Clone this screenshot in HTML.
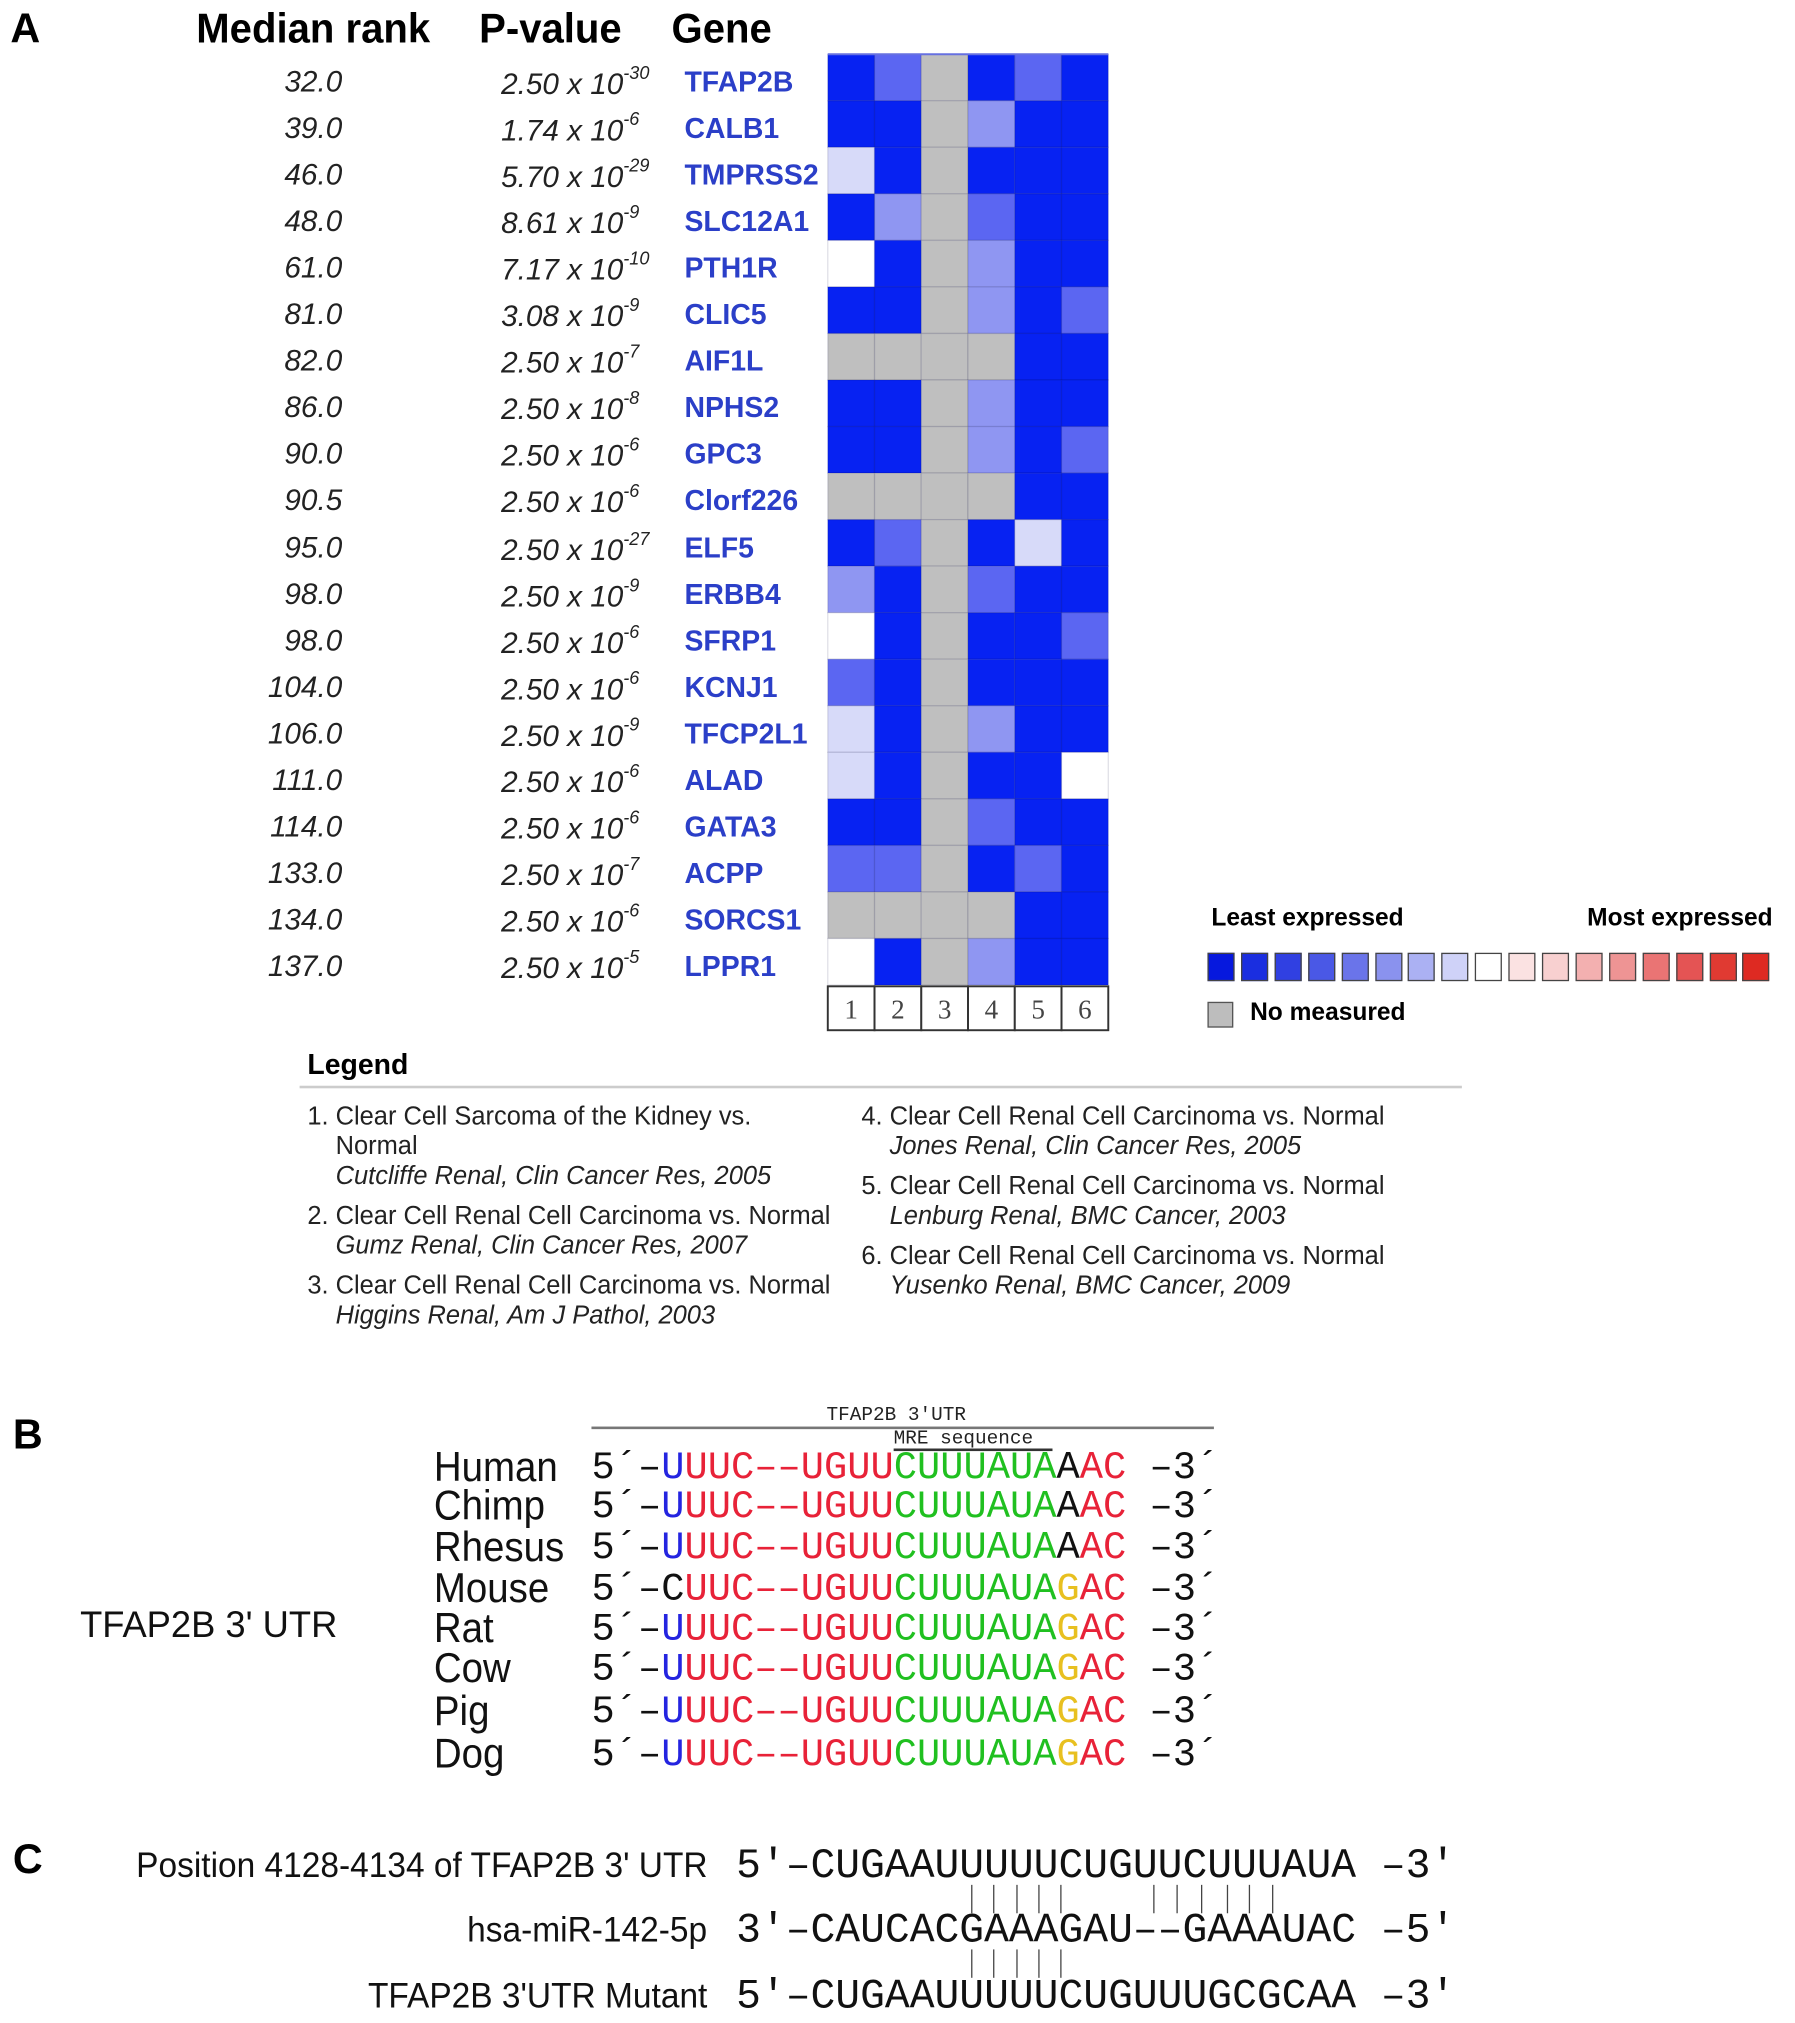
<!DOCTYPE html>
<html><head><meta charset="utf-8">
<style>
html,body{margin:0;padding:0;background:#fff;}
body{width:1795px;height:2023px;overflow:hidden;position:relative;}
#wrap{position:absolute;left:0;top:0;width:1390px;height:1567px;transform:scale(1.2914,1.2910);transform-origin:0 0;font-family:"Liberation Sans",sans-serif;}
.t{position:absolute;white-space:nowrap;line-height:1;}
.b{font-weight:bold;}
.hd{font-size:32px;font-weight:bold;transform:scaleX(0.97);transform-origin:0 50%;}
.mr{font-size:23px;font-style:italic;color:#222;}
.pv{font-size:23px;font-style:italic;color:#222;}
.pv sup{font-size:14px;position:relative;top:-3px;}
.gn{font-size:22px;font-weight:bold;color:#2b3fc8;}
.lg{font-size:20px;color:#222;transform:scaleX(0.985);transform-origin:0 50%;}
.lg i{font-style:italic;}
.mono{font-family:"Liberation Mono",monospace;}
.sp{font-size:32px;color:#111;transform:scaleX(0.93);transform-origin:0 50%;}
.seq{font-size:30px;font-family:"Liberation Mono",monospace;}
.cseq{font-size:32px;font-family:"Liberation Mono",monospace;color:#111;}
.clab{font-size:27px;color:#111;text-align:right;transform:scaleX(0.96);transform-origin:100% 50%;}
</style></head>
<body>
<div id="wrap">
<div class="t b" style="left:8px;top:6px;font-size:32px;">A</div>
<div class="t hd" style="left:152px;top:6px;">Median rank</div>
<div class="t hd" style="left:371px;top:6px;">P-value</div>
<div class="t hd" style="left:520px;top:6px;">Gene</div>
<div id="rows"></div>
<svg id="heat" style="position:absolute;left:0;top:0" width="1390" height="820"></svg>

<div class="t b" style="left:938px;top:702px;font-size:19px;">Least expressed</div>
<div class="t b" style="left:1229px;top:702px;font-size:19px;">Most expressed</div>
<div id="scale"></div>
<div class="t" style="left:935px;top:776px;width:18px;height:18px;background:#bdbdbd;border:1px solid #555;"></div>
<div class="t b" style="left:968px;top:775px;font-size:19px;">No measured</div>

<div class="t b" style="left:238px;top:814px;font-size:22px;">Legend</div>
<div class="t" style="left:232px;top:841px;width:900px;height:2px;background:#ccc;"></div>
<div class="t lg" style="left:238px;top:854px;line-height:23px;">1. Clear Cell Sarcoma of the Kidney vs.<br>&nbsp;&nbsp;&nbsp;&nbsp;Normal<br>&nbsp;&nbsp;&nbsp;&nbsp;<i>Cutcliffe Renal, Clin Cancer Res, 2005</i></div>
<div class="t lg" style="left:238px;top:931px;line-height:23px;">2. Clear Cell Renal Cell Carcinoma vs. Normal<br>&nbsp;&nbsp;&nbsp;&nbsp;<i>Gumz Renal, Clin Cancer Res, 2007</i></div>
<div class="t lg" style="left:238px;top:985px;line-height:23px;">3. Clear Cell Renal Cell Carcinoma vs. Normal<br>&nbsp;&nbsp;&nbsp;&nbsp;<i>Higgins Renal, Am J Pathol, 2003</i></div>
<div class="t lg" style="left:667px;top:854px;line-height:23px;">4. Clear Cell Renal Cell Carcinoma vs. Normal<br>&nbsp;&nbsp;&nbsp;&nbsp;<i>Jones Renal, Clin Cancer Res, 2005</i></div>
<div class="t lg" style="left:667px;top:908px;line-height:23px;">5. Clear Cell Renal Cell Carcinoma vs. Normal<br>&nbsp;&nbsp;&nbsp;&nbsp;<i>Lenburg Renal, BMC Cancer, 2003</i></div>
<div class="t lg" style="left:667px;top:962px;line-height:23px;">6. Clear Cell Renal Cell Carcinoma vs. Normal<br>&nbsp;&nbsp;&nbsp;&nbsp;<i>Yusenko Renal, BMC Cancer, 2009</i></div>

<div class="t b" style="left:10px;top:1095px;font-size:32px;">B</div>
<div class="t mono" style="left:640px;top:1089px;font-size:15px;color:#222;">TFAP2B 3′UTR</div>
<div class="t" style="left:458px;top:1105px;width:482px;height:2px;background:#777;"></div>
<div class="t mono" style="left:692px;top:1107px;font-size:15px;color:#222;">MRE sequence</div>
<div class="t" style="left:692px;top:1122px;width:123px;height:2px;background:#333;"></div>
<div class="t" style="left:62px;top:1245px;font-size:29px;color:#111;transform:scaleX(0.97);transform-origin:0 50%;">TFAP2B 3' UTR</div>
<div id="species"></div>

<div class="t b" style="left:10px;top:1424px;font-size:32px;">C</div>
<div class="t clab" style="right:842px;top:1432px;">Position 4128-4134 of TFAP2B 3' UTR</div>
<div class="t cseq" style="left:570px;top:1430px;">5′–CUGAAUUUUUCUGUUCUUUAUA –3′</div>
<div class="t clab" style="right:842px;top:1482px;">hsa-miR-142-5p</div>
<div class="t cseq" style="left:570px;top:1480px;">3′–CAUCACGAAAGAU––GAAAUAC –5′</div>
<div class="t clab" style="right:842px;top:1533px;">TFAP2B 3'UTR Mutant</div>
<div class="t cseq" style="left:570px;top:1531px;">5′–CUGAAUUUUUCUGUUUGCGCAA –3′</div>
<div id="pairs"></div>
</div>

<script>
const genes=["TFAP2B","CALB1","TMPRSS2","SLC12A1","PTH1R","CLIC5","AIF1L","NPHS2","GPC3","Clorf226","ELF5","ERBB4","SFRP1","KCNJ1","TFCP2L1","ALAD","GATA3","ACPP","SORCS1","LPPR1"];
const ranks=["32.0","39.0","46.0","48.0","61.0","81.0","82.0","86.0","90.0","90.5","95.0","98.0","98.0","104.0","106.0","111.0","114.0","133.0","134.0","137.0"];
const pMant=["2.50","1.74","5.70","8.61","7.17","3.08","2.50","2.50","2.50","2.50","2.50","2.50","2.50","2.50","2.50","2.50","2.50","2.50","2.50","2.50"];
const pExp=["-30","-6","-29","-9","-10","-9","-7","-8","-6","-6","-27","-9","-6","-6","-9","-6","-6","-7","-6","-5"];
const datasets=["1","2","3","4","5","6"];
// expression level per gene per dataset: 0 darkest blue ... 4 white, -1 not measured
const levels=[
[0,1,-1,0,1,0],[0,0,-1,2,0,0],[3,0,-1,0,0,0],[0,2,-1,1,0,0],[4,0,-1,2,0,0],
[0,0,-1,2,0,1],[-1,-1,-1,-1,0,0],[0,0,-1,2,0,0],[0,0,-1,2,0,1],[-1,-1,-1,-1,0,0],
[0,1,-1,0,3,0],[2,0,-1,1,0,0],[4,0,-1,0,0,1],[1,0,-1,0,0,0],[3,0,-1,2,0,0],
[3,0,-1,0,0,4],[0,0,-1,1,0,0],[1,1,-1,0,1,0],[-1,-1,-1,-1,0,0],[4,0,-1,2,0,0]];
const levelColors={"-1":"#bfbfbf","0":"#0722f2","1":"#5b66f2","2":"#8f96f2","3":"#d7daf9","4":"#ffffff"};
const scaleColors=["#0618de","#1a2ee0","#3040e2","#4a58e6","#6a74ea","#8a92ee","#abb1f3","#cfd2f8","#ffffff","#fbe2e2","#f8d0d0","#f3b0b0","#ee9494","#ea7474","#e45454","#e03a32","#de2a22"];

const NS="http://www.w3.org/2000/svg";
const hx=641, hy=42, cw=36.2, ch=36.05;
const xPos=j=>hx+j*cw, yPos=i=>hy+i*ch;
const svg=document.getElementById('heat');
const rowsDiv=document.getElementById('rows');
genes.forEach((g,i)=>{
  const cy=yPos(i)+ch/2+4;
  const r=document.createElement('div');r.className='t mr';r.style.right=(1390-265)+'px';r.style.top=(cy-12)+'px';r.textContent=ranks[i];
  
  
  rowsDiv.appendChild(r);
  const p=document.createElement('div');p.className='t pv';p.style.left='388px';p.style.top=(cy-12)+'px';
  p.innerHTML=pMant[i]+' x 10<sup>'+pExp[i]+'</sup>';
  
  
  rowsDiv.appendChild(p);
  const n=document.createElement('div');n.className='t gn';n.style.left='530px';n.style.top=(cy-11)+'px';n.textContent=g;
  
  
  rowsDiv.appendChild(n);
  levels[i].forEach((v,j)=>{
    const rc=document.createElementNS(NS,'rect');
    rc.setAttribute('x',xPos(j));rc.setAttribute('y',yPos(i));
    rc.setAttribute('width',cw);rc.setAttribute('height',ch);
    rc.setAttribute('fill',levelColors[v]);
    rc.setAttribute('stroke','rgba(0,0,60,0.12)');rc.setAttribute('stroke-width','1');
    
    
    svg.appendChild(rc);
  });
});
const tl=document.createElementNS(NS,'line');
tl.setAttribute('x1',hx);tl.setAttribute('x2',xPos(6));tl.setAttribute('y1',hy);tl.setAttribute('y2',hy);tl.setAttribute('stroke','#6670e0');tl.setAttribute('stroke-width','1.5');


svg.appendChild(tl);
const by=yPos(genes.length);
datasets.forEach((d,j)=>{
  const rc=document.createElementNS(NS,'rect');
  rc.setAttribute('x',xPos(j));rc.setAttribute('y',by+1);rc.setAttribute('width',cw);rc.setAttribute('height',34);
  rc.setAttribute('fill','#fff');rc.setAttribute('stroke','#333');rc.setAttribute('stroke-width','1.5');
  
  
  svg.appendChild(rc);
  const t=document.createElementNS(NS,'text');
  t.setAttribute('x',xPos(j)+cw/2);t.setAttribute('y',by+26);t.setAttribute('text-anchor','middle');
  t.setAttribute('font-family','Liberation Serif, serif');t.setAttribute('font-size','21');t.setAttribute('fill','#444');
  t.textContent=d;
  
  
  svg.appendChild(t);
});
const sc=document.getElementById('scale');
scaleColors.forEach((c,k)=>{
  const d=document.createElement('div');d.className='t';
  d.style.left=(935+k*25.9)+'px';d.style.top='738px';d.style.width='19px';d.style.height='20px';
  d.style.background=c;d.style.border='1.5px solid #444';
  
  
  sc.appendChild(d);
});

const species=["Human","Chimp","Rhesus","Mouse","Rat","Cow","Pig","Dog"];
const speciesY=[1137,1167,1199,1231,1262,1293,1326,1359];
const nuc={B:"#2424e0",R:"#e82238",G:"#20c020",K:"#111",Y:"#e8c020"};
function seqHtml(first,ac){
  const parts=[["5´–","K"],[first,first==="C"?"K":"B"],["UUC––UGUU","R"],["CUUUAUA","G"],[ac,ac==="A"?"K":"Y"],["AC","R"],[" –3´","K"]];
  return parts.map(p=>'<span style="color:'+nuc[p[1]]+'">'+p[0]+'</span>').join('');
}
const spDiv=document.getElementById('species');
species.forEach((s,i)=>{
  const n=document.createElement('div');n.className='t sp';n.style.left='336px';n.style.top=(speciesY[i]-17)+'px';n.textContent=s;
  
  
  spDiv.appendChild(n);
  const q=document.createElement('div');q.className='t seq';q.style.left='458px';q.style.top=(speciesY[i]-14)+'px';
  q.innerHTML=seqHtml(s==="Mouse"?"C":"U", i<3?"A":"G");
  
  
  spDiv.appendChild(q);
});

const pairX1=[752,769,787,804,821,893,911,930,950,967,985];
const pairX2=[752,769,787,804,821];
const pd=document.getElementById('pairs');
pairX1.forEach(x=>{const l=document.createElement('div');l.className='t';l.style.left=x+'px';l.style.top='1460px';l.style.width='1px';l.style.height='22px';l.style.background='#444';
  
  
  pd.appendChild(l);});
pairX2.forEach(x=>{const l=document.createElement('div');l.className='t';l.style.left=x+'px';l.style.top='1510px';l.style.width='1px';l.style.height='22px';l.style.background='#444';
  
  
  pd.appendChild(l);});
</script>
</body></html>
